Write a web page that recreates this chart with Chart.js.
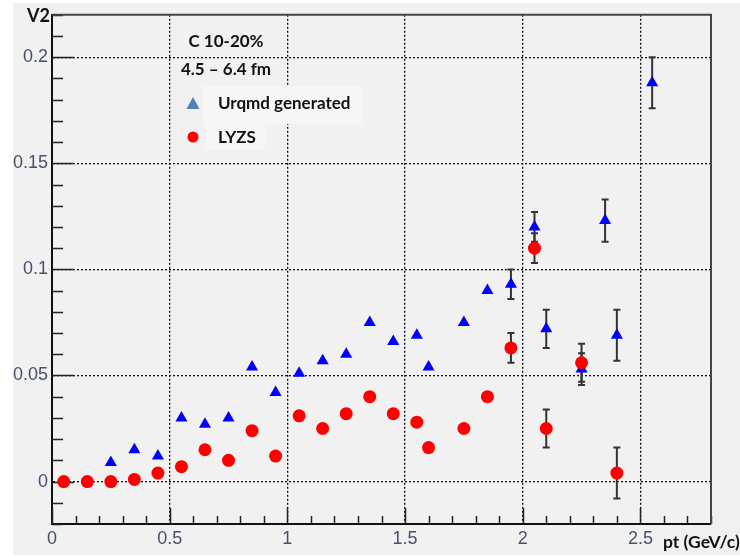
<!DOCTYPE html>
<html>
<head>
<meta charset="utf-8">
<title>V2 vs pt</title>
<script src="https://cdn.jsdelivr.net/npm/chart.js@4/dist/chart.umd.min.js"></script>
<style>
	body { margin: 0; background: #fff; }
	canvas { display: block; }
</style>
</head>
<body>
<canvas id="v2chart" width="740" height="557"></canvas>
<script>
// LYZS (red circles)
var ptLyzs  = [0.05, 0.15, 0.25, 0.35, 0.45, 0.55, 0.65, 0.75, 0.85, 0.95, 1.05, 1.15, 1.25, 1.35, 1.45, 1.55, 1.6, 1.75, 1.85, 1.95, 2.05, 2.1, 2.25, 2.4];
var v2Lyzs  = [0, 0, 0, 0.001, 0.004, 0.007, 0.015, 0.010, 0.024, 0.012, 0.031, 0.025, 0.032, 0.040, 0.032, 0.028, 0.016, 0.025, 0.040, 0.063, 0.110, 0.025, 0.056, 0.004];
var errLyzs = [0, 0, 0, 0, 0, 0, 0, 0, 0, 0, 0, 0, 0, 0, 0, 0, 0, 0, 0, 0.007, 0.007, 0.009, 0.009, 0.012];

// Urqmd generated (blue triangles)
var ptUrqmd  = [0.25, 0.35, 0.45, 0.55, 0.65, 0.75, 0.85, 0.95, 1.05, 1.15, 1.25, 1.35, 1.45, 1.55, 1.6, 1.75, 1.85, 1.95, 2.05, 2.1, 2.25, 2.35, 2.4, 2.55];
var v2Urqmd  = [0.009, 0.015, 0.012, 0.030, 0.027, 0.030, 0.054, 0.042, 0.051, 0.057, 0.060, 0.075, 0.066, 0.069, 0.054, 0.075, 0.090, 0.093, 0.120, 0.072, 0.053, 0.123, 0.069, 0.188];
var errUrqmd = [0, 0, 0, 0, 0, 0, 0, 0, 0, 0, 0, 0, 0, 0, 0, 0, 0, 0.007, 0.007, 0.009, 0.0075, 0.010, 0.012, 0.012];

var xTicks = [0, 0.5, 1, 1.5, 2, 2.5];
var yTicks = [0, 0.05, 0.1, 0.15, 0.2];

function toPoints(xs, ys) {
	var pts = [];
	xs.forEach(function(x, i){
		pts.push({x: x, y: ys[i]});
	});
	return pts;
}

// ROOT-like decorations: background, inside ticks, frame, error bars, texts
var rootStyle = {
	id: 'rootStyle',
	beforeDraw: function(chart) {
		var ctx = chart.ctx;
		ctx.save();
		ctx.fillStyle = '#f1f1f1';
		ctx.fillRect(13, 3, 727, 552);
		ctx.restore();
	},
	beforeDatasetsDraw: function(chart) {
		var ctx = chart.ctx, a = chart.chartArea;
		var xs = chart.scales.x, ys = chart.scales.y;
		var v, p;
		ctx.save();

		// faint boxes behind the legend entries
		ctx.fillStyle = '#f6f6f6';
		ctx.fillRect(203, 86, 159, 38);
		ctx.fillRect(205, 122, 60, 28);

		ctx.strokeStyle = '#222';
		ctx.lineWidth = 1.5;
		ctx.beginPath();
		// y ticks, every 0.01
		for (var k = -2; k <= 22; k++) {
			v = k / 100;
			p = Math.round(ys.getPixelForValue(v)) + 0.5;
			var len = (k % 5 === 0) ? 22 : 11;
			ctx.moveTo(a.left, p);
			ctx.lineTo(a.left + len, p);
		}
		// x ticks, every 0.1
		for (var j = 0; j <= 28; j++) {
			v = j / 10;
			p = Math.round(xs.getPixelForValue(v)) + 0.5;
			var lx = (j % 5 === 0) ? 16 : 8;
			ctx.moveTo(p, a.bottom);
			ctx.lineTo(p, a.bottom - lx);
		}
		ctx.stroke();

		// error bars
		function bars(pt, val, err, color) {
			ctx.strokeStyle = color;
			ctx.lineWidth = 2;
			pt.forEach(function(x, i){
				if (!err[i]) return;
				var px = xs.getPixelForValue(x);
				var top = ys.getPixelForValue(val[i] + err[i]);
				var bot = ys.getPixelForValue(val[i] - err[i]);
				ctx.beginPath();
				ctx.moveTo(px, top); ctx.lineTo(px, bot);
				ctx.moveTo(px - 3.5, top); ctx.lineTo(px + 3.5, top);
				ctx.moveTo(px - 3.5, bot); ctx.lineTo(px + 3.5, bot);
				ctx.stroke();
			});
		}
		bars(ptUrqmd, v2Urqmd, errUrqmd, '#333');
		bars(ptLyzs, v2Lyzs, errLyzs, '#333');
		ctx.restore();
	},
	afterDraw: function(chart) {
		var ctx = chart.ctx, a = chart.chartArea;
		ctx.save();

		// top and right frame
		ctx.strokeStyle = '#444';
		ctx.lineWidth = 2;
		ctx.beginPath();
		ctx.moveTo(a.left, a.top);
		ctx.lineTo(a.right, a.top);
		ctx.lineTo(a.right, a.bottom);
		ctx.stroke();

		// axis titles
		ctx.fillStyle = '#111';
		ctx.font = 'bold 18px Lato';
		ctx.textBaseline = 'middle';
		ctx.textAlign = 'left';
		ctx.fillText('V2', 27, 16);
		ctx.font = 'bold 17.5px Lato';
		ctx.fillText('pt (GeV/c)', 663, 542);

		// legend block
		ctx.font = 'bold 17px Lato';
		ctx.textAlign = 'center';
		ctx.fillText('C 10-20%', 226, 42);
		ctx.fillText('4.5 \u2013 6.4 fm', 226, 70);
		ctx.textAlign = 'left';
		ctx.fillText(chart.data.datasets[1].label, 218, 104);
		ctx.fillText(chart.data.datasets[0].label, 218, 138);

		ctx.fillStyle = '#4f81bd';
		ctx.beginPath();
		ctx.moveTo(193, 97);
		ctx.lineTo(199.5, 109);
		ctx.lineTo(186.5, 109);
		ctx.closePath();
		ctx.fill();

		ctx.fillStyle = '#ff0000';
		ctx.beginPath();
		ctx.arc(193, 137, 5.5, 0, Math.PI * 2);
		ctx.fill();

		ctx.restore();
	}
};

var ctx = document.getElementById('v2chart').getContext('2d');

var v2chart = new Chart(ctx, {
	type: 'scatter',
	data: {
		datasets: [
			{
				label: 'LYZS',
				data: toPoints(ptLyzs, v2Lyzs),
				pointStyle: 'circle',
				pointRadius: 6.5,
				backgroundColor: '#ff0000',
				borderColor: '#ff0000',
				borderWidth: 0,
				order: 1
			},
			{
				label: 'Urqmd generated',
				data: toPoints(ptUrqmd, v2Urqmd),
				pointStyle: 'triangle',
				pointRadius: 7,
				backgroundColor: '#0000ff',
				borderColor: '#0000ff',
				borderWidth: 0,
				order: 2
			}
		]
	},
	options: {
		responsive: false,
		animation: false,
		events: [],
		layout: { padding: { left: 0, top: 12, right: 29, bottom: 0 } },
		plugins: {
			legend: { display: false },
			tooltip: { enabled: false }
		},
		scales: {
			x: {
				type: 'linear',
				min: 0,
				max: 2.8,
				afterBuildTicks: function(scale) {
					scale.ticks = xTicks.map(function(v){ return {value: v}; });
				},
				afterFit: function(scale) { scale.height = 33; },
				ticks: {
					padding: 4,
					color: '#46506a',
					font: { family: 'Liberation Sans', size: 18 },
					callback: function(v) { return String(v); }
				},
				grid: { color: '#111', lineWidth: 1.3, drawTicks: false },
				border: { display: true, color: '#111', width: 2, dash: [2, 2] }
			},
			y: {
				type: 'linear',
				min: -0.02,
				max: 0.22,
				afterBuildTicks: function(scale) {
					scale.ticks = yTicks.map(function(v){ return {value: v}; });
				},
				afterFit: function(scale) { scale.width = 52; },
				ticks: {
					padding: 4,
					color: '#46506a',
					font: { family: 'Liberation Sans', size: 18 },
					callback: function(v) { return String(v); }
				},
				grid: { color: '#111', lineWidth: 1.3, drawTicks: false },
				border: { display: true, color: '#111', width: 2, dash: [2, 2] }
			}
		}
	},
	plugins: [rootStyle]
});
</script>
</body>
</html>
